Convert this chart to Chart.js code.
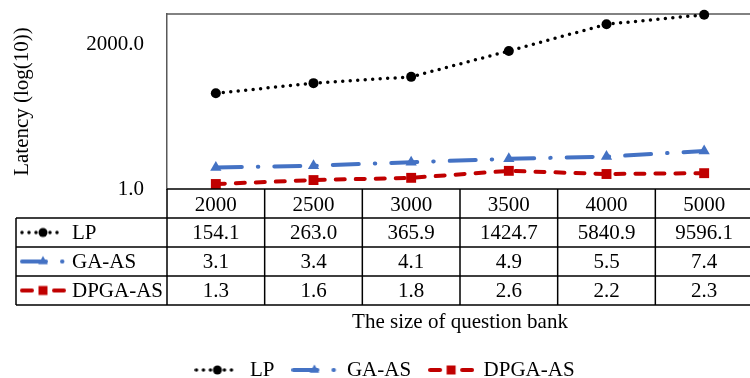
<!DOCTYPE html>
<html>
<head>
<meta charset="utf-8">
<script src="https://cdn.jsdelivr.net/npm/chart.js@4.4.1/dist/chart.umd.min.js"></script>
<style>
    html, body { margin: 0; padding: 0; background: #fff; overflow: hidden; }
    canvas { display: block; }
</style>
</head>
<body>
<canvas id="latency_chart" width="760" height="378"></canvas>
<script>
const bankSizes = ['2000', '2500', '3000', '3500', '4000', '5000'];
const lpLatency = [154.1, 263.0, 365.9, 1424.7, 5840.9, 9596.1];
const gaLatency = [3.1, 3.4, 4.1, 4.9, 5.5, 7.4];
const dpgaLatency = [1.3, 1.6, 1.8, 2.6, 2.2, 2.3];
const yTicks = [1, 2000];

const serif = '"Liberation Serif", "Times New Roman", serif';
Chart.defaults.font.family = serif;
Chart.defaults.font.size = 21;
Chart.defaults.color = '#000';

const series = [
    { label: 'LP', data: lpLatency, color: '#000000', dash: [0, 7.5], keyDash: [0, 7], width: 3.5, point: 'circle', radius: 5, keyRadius: 4.5 },
    { label: 'GA-AS', data: gaLatency, color: '#4472C4', dash: [26, 16, 0.5, 16], keyDash: [24, 16, 0.5, 20], width: 4, point: 'triangle', radius: 6.5, keyRadius: 5.5 },
    { label: 'DPGA-AS', data: dpgaLatency, color: '#C00000', dash: [9, 11], keyDash: [10, 22, 10, 100], width: 4, point: 'rect', radius: 7, keyRadius: 4.5 },
]

function marker (g, type, x, y, r) {
    g.beginPath()
    if (type == 'circle') {
        g.arc(x, y, r, 0, Math.PI * 2)
    } else if (type == 'triangle') {
        g.moveTo(x, y - r)
        g.lineTo(x + r * 0.866, y + r * 0.5)
        g.lineTo(x - r * 0.866, y + r * 0.5)
        g.closePath()
    } else {
        g.rect(x - r, y - r, r * 2, r * 2)
    }
    g.fill()
}

// little line+marker sample, used by the legend and the table rows
function makeKey (s) {
    const c = document.createElement('canvas')
    c.width = 46
    c.height = 16
    const g = c.getContext('2d')
    g.strokeStyle = s.color
    g.fillStyle = s.color
    g.lineWidth = s.width
    g.lineCap = 'round'
    g.setLineDash(s.keyDash)
    g.beginPath()
    g.moveTo(2, 8)
    g.lineTo(44, 8)
    g.stroke()
    g.setLineDash([])
    marker(g, s.point, 23, 8, s.keyRadius)
    return c
}
const keys = series.map(makeKey)

const dataTable = {
    id: 'dataTable',
    beforeDatasetsDraw (chart) {
        const { ctx, chartArea: a } = chart
        ctx.save()
        ctx.strokeStyle = '#595959'
        ctx.lineWidth = 1.5
        ctx.beginPath()
        ctx.moveTo(a.left, a.top)
        ctx.lineTo(a.right, a.top)
        ctx.stroke()
        ctx.restore()
    },
    afterDraw (chart) {
        const { ctx, chartArea: a } = chart
        const x = chart.scales.x
        const rowH = 29
        const tableLeft = 16
        const colW = (a.right - a.left) / bankSizes.length
        const bottom = a.bottom + (series.length + 1) * rowH

        ctx.save()
        ctx.strokeStyle = '#000'
        ctx.lineWidth = 1.5
        ctx.beginPath()
        ctx.moveTo(a.left, a.bottom)
        ctx.lineTo(a.right, a.bottom)
        for (let r = 1; r <= series.length + 1; r++) {
            const y = a.bottom + r * rowH
            ctx.moveTo(tableLeft, y)
            ctx.lineTo(a.right, y)
        }
        ctx.moveTo(tableLeft, a.bottom + rowH)
        ctx.lineTo(tableLeft, bottom)
        for (let i = 0; i < bankSizes.length; i++) {
            const xl = x.getPixelForValue(i) - colW / 2
            ctx.moveTo(xl, a.bottom)
            ctx.lineTo(xl, bottom)
        }
        ctx.moveTo(a.right, a.bottom)
        ctx.lineTo(a.right, bottom)
        ctx.stroke()

        ctx.fillStyle = '#000'
        ctx.font = '21px ' + serif
        ctx.textBaseline = 'middle'
        series.forEach((s, r) => {
            const cy = a.bottom + (r + 1.5) * rowH + 1
            ctx.drawImage(keys[r], 43 - 23, cy - 9)
            ctx.textAlign = 'left'
            ctx.fillText(s.label, 72, cy)
            ctx.textAlign = 'center'
            s.data.forEach((v, i) => ctx.fillText(v.toFixed(1), x.getPixelForValue(i), cy))
        })
        ctx.restore()
    }
}

new Chart(document.getElementById('latency_chart'), {
    type: 'line',
    data: {
        labels: bankSizes,
        datasets: series.map(s => ({
            label: s.label,
            data: s.data,
            borderColor: s.color,
            backgroundColor: s.color,
            borderWidth: s.width,
            borderDash: s.dash,
            borderCapStyle: 'round',
            pointStyle: s.point,
            pointRadius: s.radius,
            pointBorderWidth: 0,
            pointBackgroundColor: s.color,
            tension: 0,
            clip: false,
        }))
    },
    options: {
        responsive: false,
        animation: false,
        devicePixelRatio: 1,
        layout: { padding: { top: 14, bottom: -12.5, left: 10, right: 0 } },
        plugins: {
            tooltip: { enabled: false },
            legend: {
                position: 'bottom',
                labels: {
                    usePointStyle: true,
                    pointStyleWidth: 44,
                    padding: 18,
                    color: '#000',
                    generateLabels: () => series.map((s, i) => ({
                        text: s.label,
                        pointStyle: keys[i],
                        fillStyle: s.color,
                        strokeStyle: s.color,
                        lineWidth: 0,
                        hidden: false,
                        datasetIndex: i,
                    }))
                }
            }
        },
        scales: {
            x: {
                offset: true,
                grid: { display: false, drawTicks: false },
                border: { display: false },
                ticks: { padding: 4, maxRotation: 0, autoSkip: false },
                title: { display: true, text: 'The size of question bank', padding: { top: 0, bottom: 6 } },
                afterFit: (scale) => { scale.height = 152.5 }
            },
            y: {
                type: 'logarithmic',
                min: 1,
                max: 10000,
                afterBuildTicks: (scale) => { scale.ticks = yTicks.map(v => ({ value: v })) },
                ticks: { padding: 23, callback: (v) => Number(v).toFixed(1) },
                grid: { display: false, drawTicks: false },
                border: { display: true, color: '#595959', width: 1.5 },
                title: { display: true, text: 'Latency (log(10))', padding: { top: 0, bottom: 0 } },
                afterFit: (scale) => {
                    scale.width = 157
                    scale.paddingTop = 0
                    scale.paddingBottom = 0
                }
            }
        }
    },
    plugins: [dataTable]
})
</script>
</body>
</html>
